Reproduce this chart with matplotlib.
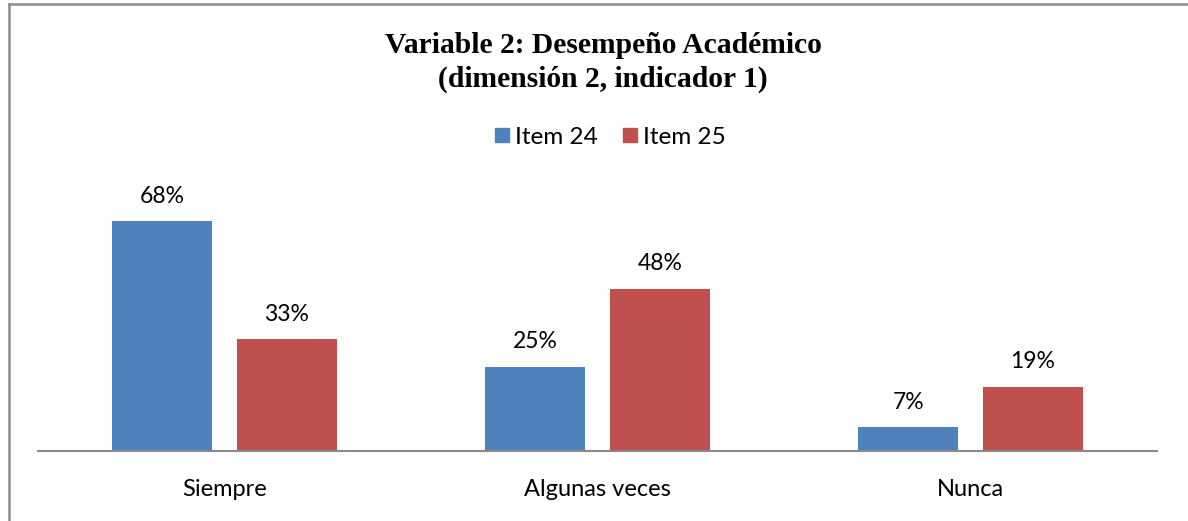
import matplotlib
matplotlib.use("Agg")
import matplotlib.pyplot as plt
from matplotlib.lines import Line2D
import numpy as np

categories = ["Siempre", "Algunas veces", "Nunca"]
series_names = ["Item 24", "Item 25"]
item24 = [68, 25, 7]
item25 = [33, 48, 19]
colors = ["#4F81BD", "#C0504D"]
title = "Variable 2: Desempeño Académico\n(dimensión 2, indicador 1)"

W, H = 1188, 521
fig = plt.figure(figsize=(W / 100, H / 100), dpi=100)
fig.patch.set_facecolor("white")

ax_left, ax_right = 38 / W, 1157 / W
ax_bottom = 1 - 451 / H
ax_top = 1 - 150 / H
ax = fig.add_axes([ax_left, ax_bottom, ax_right - ax_left, ax_top - ax_bottom])

x = np.arange(len(categories))
bw = 0.268
off = 0.167
lab_font = "Lato"
for vals, c, d in ((item24, colors[0], -off), (item25, colors[1], off)):
    bars = ax.bar(x + d, vals, width=bw, color=c, zorder=2)
    for b, v in zip(bars, vals):
        ax.annotate(f"{v}%", (b.get_x() + b.get_width() / 2, v),
                    xytext=(0, 18), textcoords="offset points",
                    ha="center", va="center", fontsize=16.5, family=lab_font)

ax.set_xlim(-0.5, 2.5)
ax.set_ylim(0, 301 / 3.38)
for s in ("top", "right", "left"):
    ax.spines[s].set_visible(False)
ax.spines["bottom"].set_color("#8a8a8a")
ax.spines["bottom"].set_linewidth(1.5)
ax.set_yticks([])
ax.set_xticks(x)
ax.set_xticklabels(categories, fontsize=17, family=lab_font)
ax.tick_params(axis="x", length=0, pad=20)

fig.text(603 / W, 1 - 62.5 / H, title, ha="center", va="center",
         fontsize=21.3, fontweight="bold", family="Liberation Serif", linespacing=1.3)

handles = [Line2D([], [], marker="s", linestyle="none", markersize=10,
                  markerfacecolor=c, markeredgecolor=c) for c in colors]
fig.legend(handles, series_names, loc="center", bbox_to_anchor=(609 / W, 1 - 137 / H),
           ncol=2, frameon=False, prop={"family": lab_font, "size": 17.5},
           handletextpad=0.15, columnspacing=0.9, handlelength=0.8)

# figure border (top & left visible)
fig.add_artist(Line2D([8.5 / W, 8.5 / W], [0, 1 - 3.5 / H], transform=fig.transFigure,
                      color="#8c8c8c", lw=1.8))
fig.add_artist(Line2D([8.5 / W, 1], [1 - 3.5 / H, 1 - 3.5 / H], transform=fig.transFigure,
                      color="#8c8c8c", lw=1.8))

fig.savefig("out.png", dpi=100, facecolor="white")
